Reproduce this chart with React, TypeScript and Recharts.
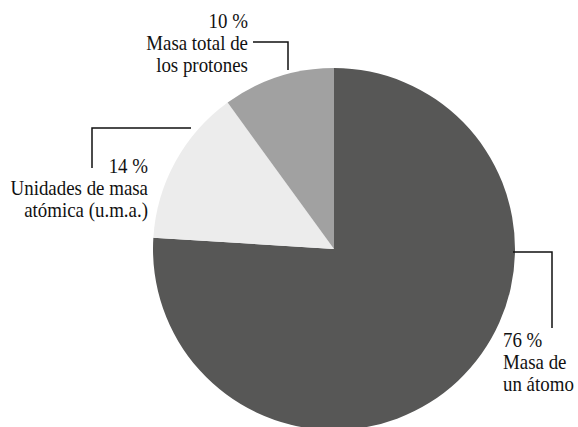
import React from 'react';
import { PieChart, Pie, Cell } from 'recharts';

// share of mass, clockwise from 12 o'clock
const titles = [
  ['Masa de', 'un átomo'],
  ['Unidades de masa', 'atómica (u.m.a.)'],
  ['Masa total de', 'los protones'],
];
const values = [76, 14, 10];
const colors = ['#575756', '#ececec', '#a1a1a1'];

const data = values.map((v, i) => ({ name: titles[i].join(' '), value: v }));

// where each callout sits, relative to the pie centre
const callouts = [
  { line: [[179, 3], [218, 3], [218, 79]], tx: 169, ty: 98, anchor: 'start' },
  { line: [[-143, -121], [-242, -121], [-242, -81]], tx: -186, ty: -76, anchor: 'end' },
  { line: [[-81, -207], [-46, -207], [-46, -179]], tx: -86, ty: -221, anchor: 'end' },
];

// the source uses a condensed Times, so squeeze the serif horizontally
const SX = 0.9;
const serif = { fontFamily: 'Liberation Serif, Times New Roman, serif', fontSize: 21 };

const renderLabel = (props: any) => {
  const { cx, cy, index } = props;
  const c = callouts[index];
  const pts = c.line.map(([x, y]) => `${cx + x},${cy + y}`).join(' ');
  const lines = [`${values[index]} %`, ...titles[index]];
  const x = (cx + c.tx) / SX;
  return (
    <g key={`lbl-${index}`}>
      <polyline points={pts} fill="none" stroke="#111" strokeWidth={1.5} />
      <text transform={`scale(${SX},1)`} x={x} y={cy + c.ty} textAnchor={c.anchor} fill="#111" style={serif}>
        {lines.map((l, k) => (
          <tspan key={k} x={x} dy={k === 0 ? 0 : 22}>{l}</tspan>
        ))}
      </text>
    </g>
  );
};

export default function App() {
  return (
    <div style={{ position: 'absolute', left: 0, top: 0, background: '#fff' }}>
      <PieChart width={578} height={427} margin={{ top: 0, right: 0, bottom: 0, left: 0 }}>
        <Pie
          data={data}
          dataKey="value"
          cx={334}
          cy={249}
          outerRadius={181}
          startAngle={90}
          endAngle={-270}
          stroke="none"
          label={renderLabel}
          labelLine={false}
          isAnimationActive={false}
        >
          {data.map((d, i) => <Cell key={i} fill={colors[i]} />)}
        </Pie>
      </PieChart>
    </div>
  );
}
